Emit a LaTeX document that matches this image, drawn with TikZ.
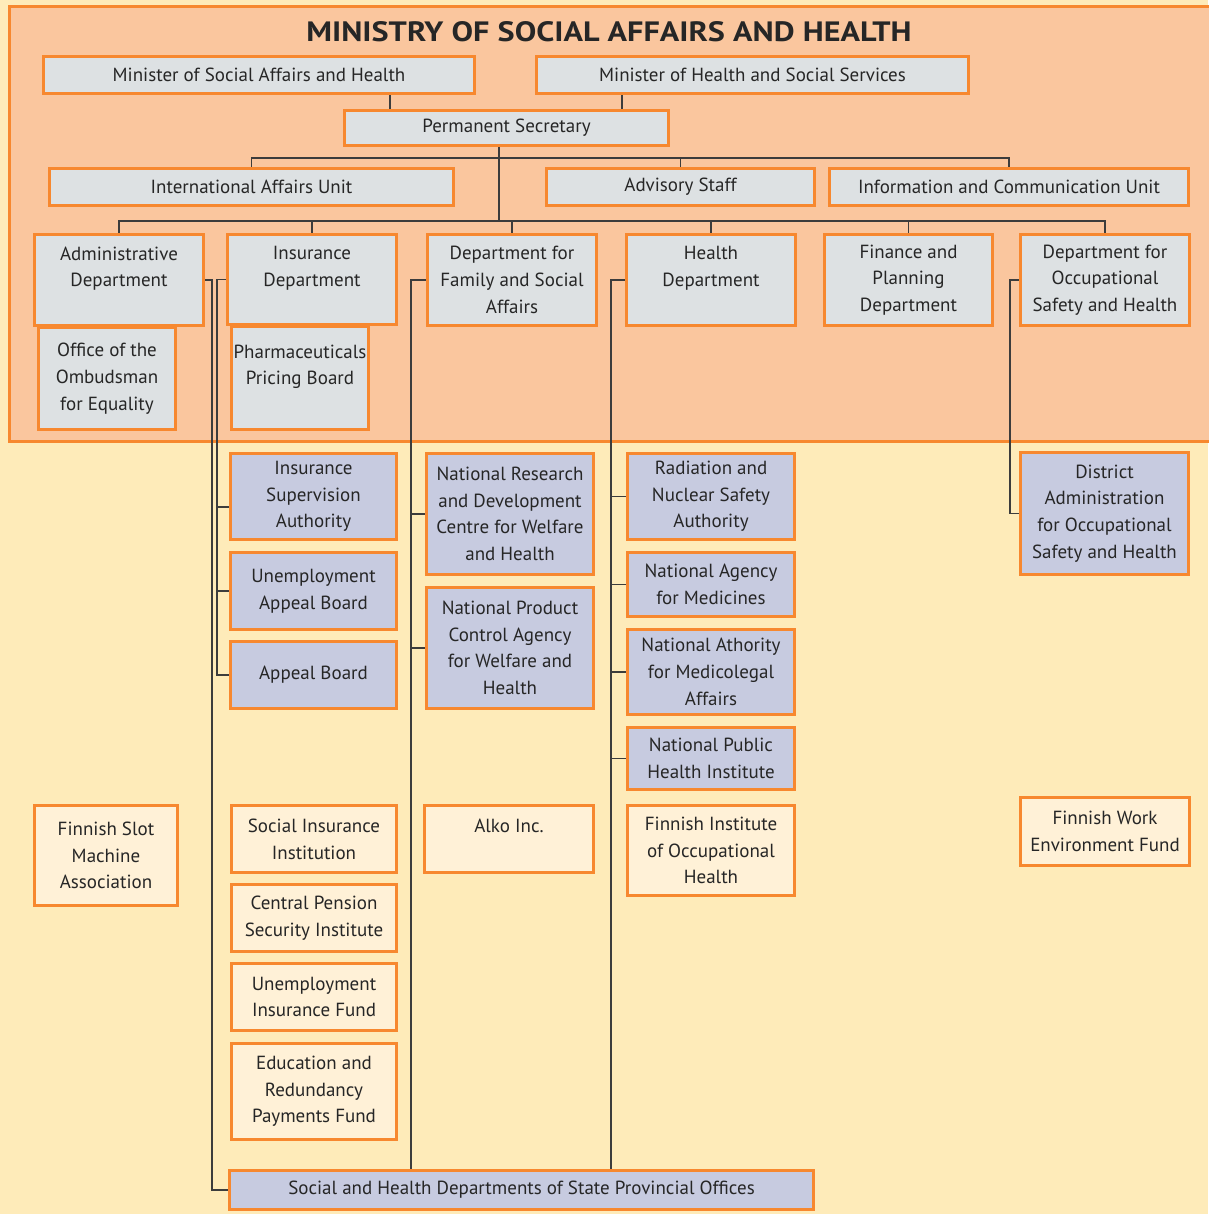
\documentclass[tikz,border=0pt]{standalone}
\usepackage{fontspec}
\setmainfont{PT Sans}
\usetikzlibrary{calc}
\definecolor{bgc}{HTML}{FEEBB9}
\definecolor{peach}{HTML}{FAC69E}
\definecolor{orb}{HTML}{F7882F}
\definecolor{gry}{HTML}{DDE1E3}
\definecolor{lav}{HTML}{C7CBE0}
\definecolor{crm}{HTML}{FFF1D7}
\definecolor{lnc}{HTML}{3C3C3C}
\definecolor{txt}{HTML}{262626}
\pgfdeclarelayer{bglayer}
\pgfdeclarelayer{linelayer}
\pgfsetlayers{bglayer,linelayer,main}
\newcommand\bx[7]{%
 \pgfmathsetmacro\cx{(#3+#5)/2}\pgfmathsetmacro\cy{(#4+#6)/2}%
 \pgfmathsetmacro\ww{#5-#3-3}\pgfmathsetmacro\hh{#6-#4-3}%
 \node[#2, minimum width=\ww pt, minimum height=\hh pt] (#1) at (\cx,\cy) {#7};}
\begin{document}
\begin{tikzpicture}[x=1pt,y=-1pt,
  box/.style={draw=orb, line width=3pt, inner sep=0pt, align=center, text=txt,
    font=\fontsize{19}{26.7}\selectfont},
  gbox/.style={box, fill=gry},
  lbox/.style={box, fill=lav},
  cbox/.style={box, fill=crm},
  conn/.style={draw=lnc, line width=1.3pt}]
\useasboundingbox (0,0) rectangle (1208,1214);
\begin{pgfonlayer}{bglayer}
\fill[bgc] (0,0) rectangle (1208,1214);
\draw[fill=peach, draw=orb, line width=3pt] (9.5,6.5) rectangle (1220,441.5);
\end{pgfonlayer}
\node[text=txt, font=\fontsize{28}{32}\selectfont\bfseries] (title) at (609,32) {\scalebox{1.15}[1]{MINISTRY OF SOCIAL AFFAIRS AND HEALTH}};
\bx{msa}{gbox}{42}{55}{476}{95}{Minister of Social Affairs and Health}
\bx{mhs}{gbox}{535}{55}{970}{95}{Minister of Health and Social Services}
\bx{ps}{gbox}{343}{109}{670}{147}{Permanent Secretary}
\bx{iau}{gbox}{48}{167}{455}{207}{International Affairs Unit}
\bx{adv}{gbox}{545}{167}{816}{207}{Advisory Staff}
\bx{icu}{gbox}{828}{167}{1190}{207}{Information and Communication Unit}
\bx{ombud}{gbox}{37}{326}{177}{431}{Office of the\\Ombudsman\\for Equality}
\bx{admin}{gbox}{33}{233}{205}{327}{Administrative\\Department\\~}
\bx{pharm}{gbox}{230}{325}{370}{431}{Pharmaceuticals\\Pricing Board\\~}
\bx{insd}{gbox}{226}{233}{398}{326}{Insurance\\Department\\~}
\bx{fam}{gbox}{426}{233}{598}{327}{Department for\\Family and Social\\Affairs}
\bx{hd}{gbox}{625}{233}{797}{327}{Health\\Department\\~}
\bx{fin}{gbox}{823}{233}{994}{327}{Finance and\\Planning\\Department}
\bx{occ}{gbox}{1019}{233}{1191}{327}{Department for\\Occupational\\Safety and Health}
\bx{isa}{lbox}{229}{452}{398}{541}{Insurance\\Supervision\\Authority}
\bx{uab}{lbox}{229}{551}{398}{631}{Unemployment\\Appeal Board}
\bx{ab}{lbox}{229}{640}{398}{710}{Appeal Board}
\bx{nrdc}{lbox}{425}{452}{595}{576}{National Research\\and Development\\Centre for Welfare\\and Health}
\bx{npca}{lbox}{425}{586}{595}{710}{National Product\\Control Agency\\for Welfare and\\Health}
\bx{rad}{lbox}{626}{452}{796}{541}{Radiation and\\Nuclear Safety\\Authority}
\bx{nam}{lbox}{626}{551}{796}{618}{National Agency\\for Medicines}
\bx{nama}{lbox}{626}{628}{796}{716}{National Athority\\for Medicolegal\\Affairs}
\bx{nphi}{lbox}{626}{726}{796}{791}{National Public\\Health Institute}
\bx{dist}{lbox}{1019}{451}{1190}{576}{District\\Administration\\for Occupational\\Safety and Health}
\bx{slot}{cbox}{33}{804}{179}{907}{Finnish Slot\\Machine\\Association}
\bx{sii}{cbox}{230}{804}{398}{874}{Social Insurance\\Institution}
\bx{cpsi}{cbox}{230}{883}{398}{953}{Central Pension\\Security Institute}
\bx{uif}{cbox}{230}{962}{398}{1032}{Unemployment\\Insurance Fund}
\bx{erpf}{cbox}{230}{1042}{398}{1141}{Education and\\Redundancy\\Payments Fund}
\bx{alko}{cbox}{423}{804}{595}{874}{Alko Inc.\\~}
\bx{fioh}{cbox}{626}{804}{796}{897}{Finnish Institute\\of Occupational\\Health}
\bx{fwef}{cbox}{1019}{796}{1191}{867}{Finnish Work\\Environment Fund}
\bx{sh}{lbox}{228}{1169}{815}{1211}{Social and Health Departments of State Provincial Offices}
\coordinate (x390) at (390,0);
\coordinate (x622) at (622,0);
\coordinate (bA) at (499,158);
\coordinate (bB) at (499,221);
\coordinate (x217) at (217,0);
\coordinate (y507) at (0,507);
\coordinate (x411) at (411,0);
\coordinate (x611) at (611,0);
\coordinate (x1010) at (1010,0);
\begin{pgfonlayer}{linelayer}
\draw[conn] (msa.south -| x390) -- (ps.north -| x390);
\draw[conn] (mhs.south -| x622) -- (ps.north -| x622);
\draw[conn] (ps.south -| bB) -- (bB);
\draw[conn] (iau.north) |- (bA) -| (icu.north);
\draw[conn] (adv.north) -- (adv.north |- bA);
\draw[conn] (admin.north) |- (bB) -| (occ.north);
\draw[conn] (insd.north) -- (insd.north |- bB);
\draw[conn] (fam.north) -- (fam.north |- bB);
\draw[conn] (hd.north) -- (hd.north |- bB);
\draw[conn] (fin.north) -- (fin.north |- bB);
\draw[conn] (admin.east) -- ++(7,0) |- (sh.west);
\draw[conn] (insd.west) -| (x217 |- ab.west) -- (ab.west);
\draw[conn] (x217 |- y507) -- (isa.west |- y507);
\draw[conn] (x217 |- uab.west) -- (uab.west);
\draw[conn] (fam.west) -| (x411 |- sh.north);
\draw[conn] (x411 |- nrdc.west) -- (nrdc.west);
\draw[conn] (x411 |- npca.west) -- (npca.west);
\draw[conn] (hd.west) -| (x611 |- sh.north);
\draw[conn] (x611 |- rad.west) -- (rad.west);
\draw[conn] (x611 |- nam.west) -- (nam.west);
\draw[conn] (x611 |- nama.west) -- (nama.west);
\draw[conn] (x611 |- nphi.west) -- (nphi.west);
\draw[conn] (occ.west) -| (x1010 |- dist.west) -- (dist.west);
\end{pgfonlayer}
\end{tikzpicture}
\end{document}
